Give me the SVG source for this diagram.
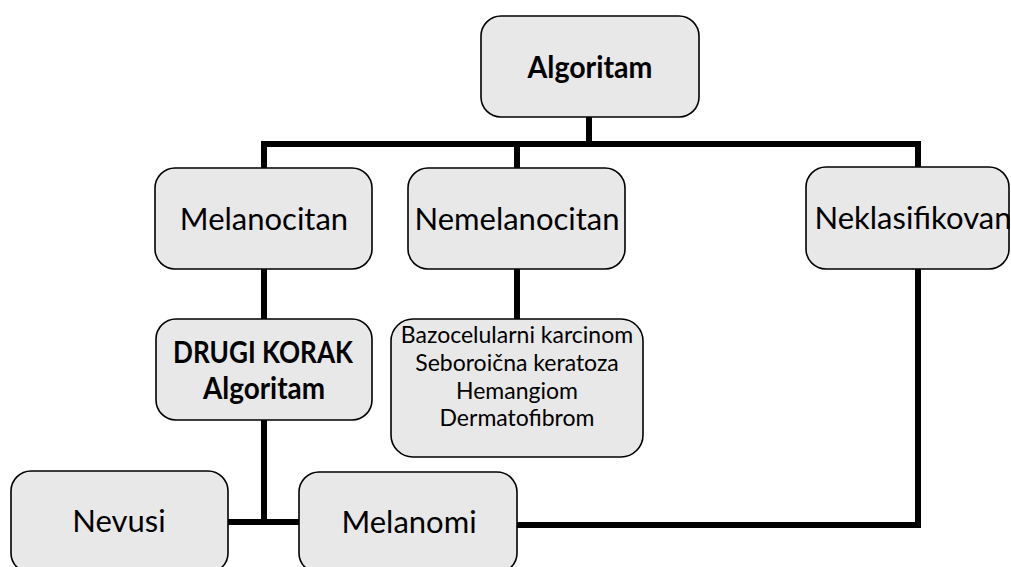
<svg xmlns="http://www.w3.org/2000/svg" width="1011" height="567" viewBox="0 0 1011 567">
<style>
.box{fill:#e8e8e8;stroke:#000;stroke-width:1.6}
.t{font-family:Lato,"Liberation Sans",sans-serif;fill:#000;text-anchor:middle}
.big{font-size:31px}
.bold{font-weight:bold;font-size:30px}
.small{font-size:23px}
.con{fill:none;stroke:#000;stroke-width:6;stroke-linejoin:miter;stroke-linecap:butt}
</style>
<rect width="1011" height="567" fill="#fff"/>
<g id="connectors">
<path class="con" d="M589,117 V144"/>
<path class="con" d="M261,144 H921"/>
<path class="con" d="M264,144 V168"/>
<path class="con" d="M517,144 V168"/>
<path class="con" d="M918,141 V167"/>
<path class="con" d="M264,269 V319"/>
<path class="con" d="M517,269 V319"/>
<path class="con" d="M264,420 V522"/>
<path class="con" d="M228,522 H299"/>
<path class="con" d="M517,525 H918 V269"/>
</g>
<g id="n-algoritam">
<rect class="box" x="481" y="16" width="218" height="101" rx="20"/>
<text class="t bold" x="590" y="78" textLength="125" lengthAdjust="spacingAndGlyphs">Algoritam</text>
</g>
<g id="n-melanocitan">
<rect class="box" x="155" y="168" width="217" height="101" rx="20"/>
<text class="t big" x="264" y="230">Melanocitan</text>
</g>
<g id="n-nemelanocitan">
<rect class="box" x="408" y="168" width="217" height="101" rx="20"/>
<text class="t big" x="517" y="230">Nemelanocitan</text>
</g>
<g id="n-neklasifikovan">
<rect class="box" x="806" y="167" width="203" height="102" rx="20"/>
<text class="t big" x="913" y="229">Neklasifikovan</text>
</g>
<g id="n-drugi">
<rect class="box" x="156" y="319" width="216" height="101" rx="20"/>
<text class="t bold" x="263" y="363" textLength="180" lengthAdjust="spacingAndGlyphs">DRUGI KORAK</text>
<text class="t bold" x="264" y="399" textLength="122" lengthAdjust="spacingAndGlyphs">Algoritam</text>
</g>
<g id="n-nemel-list">
<rect class="box" x="391" y="319" width="252" height="138" rx="22"/>
<text class="t small" x="517" y="343">Bazocelularni karcinom</text>
<text class="t small" x="517" y="371">Seboroična keratoza</text>
<text class="t small" x="517" y="399">Hemangiom</text>
<text class="t small" x="517" y="426">Dermatofibrom</text>
</g>
<g id="n-nevusi">
<rect class="box" x="11" y="471" width="217" height="102" rx="20"/>
<text class="t big" x="119" y="532">Nevusi</text>
</g>
<g id="n-melanomi">
<rect class="box" x="299" y="472" width="218" height="101" rx="20"/>
<text class="t big" x="409" y="533">Melanomi</text>
</g>
</svg>
